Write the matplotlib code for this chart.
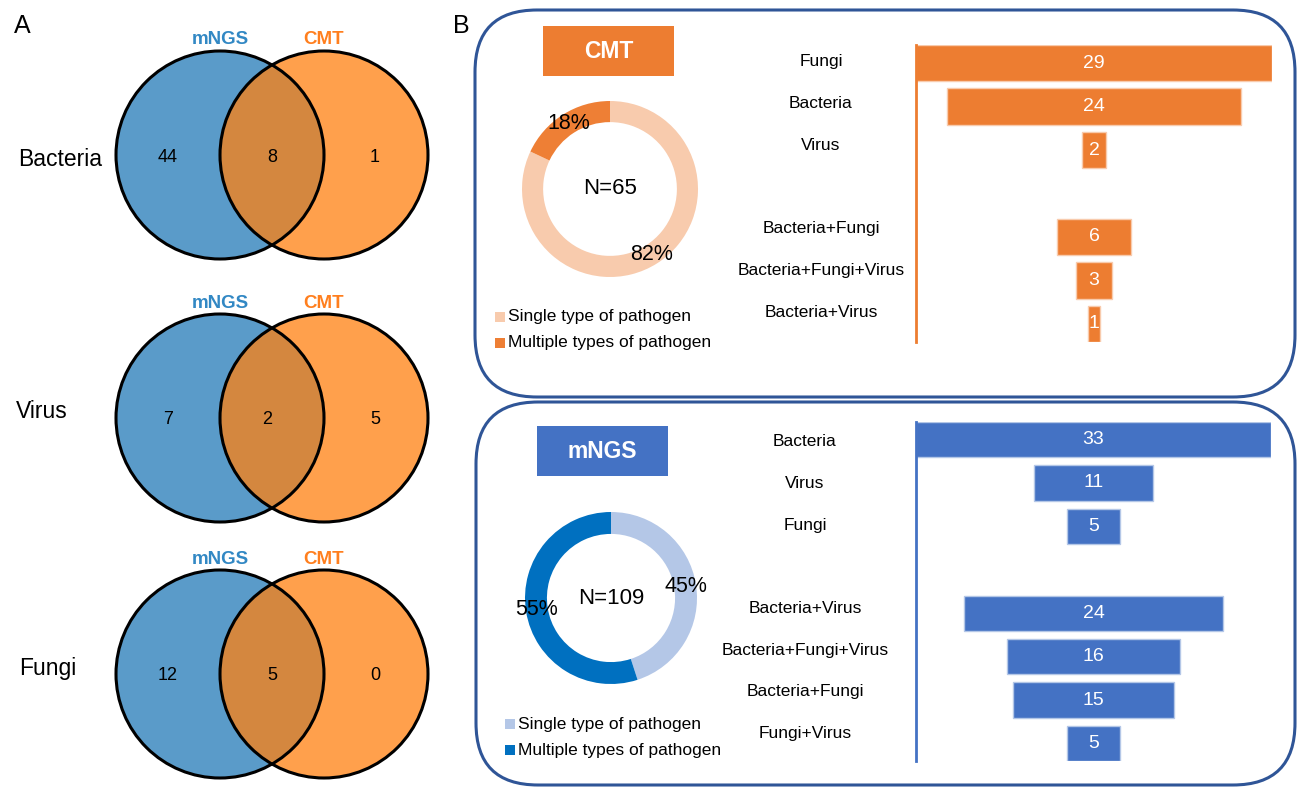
import matplotlib
matplotlib.use("Agg")
import matplotlib.pyplot as plt
from matplotlib.patches import Circle, Rectangle, FancyBboxPatch
import matplotlib.transforms as mtransforms

plt.rcParams['font.family'] = ['Liberation Sans', 'DejaVu Sans']

# ---------------- data ----------------
venn_groups = ["Bacteria", "Virus", "Fungi"]
venn_mngs_only = [44, 7, 12]
venn_both = [8, 2, 5]
venn_cmt_only = [1, 5, 0]

cmt_cats = ["Fungi", "Bacteria", "Virus",
            "Bacteria+Fungi", "Bacteria+Fungi+Virus", "Bacteria+Virus"]
cmt_vals = [29, 24, 2, 6, 3, 1]
cmt_single_count = 3

mngs_cats = ["Bacteria", "Virus", "Fungi",
             "Bacteria+Virus", "Bacteria+Fungi+Virus", "Bacteria+Fungi", "Fungi+Virus"]
mngs_vals = [33, 11, 5, 24, 16, 15, 5]
mngs_single_count = 3

pie_labels = ["Single type of pathogen", "Multiple types of pathogen"]
cmt_pie = [82, 18]
cmt_n = 65
mngs_pie = [45, 55]
mngs_n = 109

# ---------------- figure ----------------
W, H = 1297, 787
fig = plt.figure(figsize=(W / 100, H / 100), dpi=100)
bg = fig.add_axes([0, 0, 1, 1])
bg.set_xlim(0, W)
bg.set_ylim(H, 0)
bg.axis('off')
bg.set_zorder(0)


def px_axes(x0, y0, x1, y1):
    """Create axes from pixel box (top-left origin)."""
    return fig.add_axes([x0 / W, 1 - y1 / H, (x1 - x0) / W, (y1 - y0) / H])


# ---------------- Panel A: Venn ----------------
bg.text(22, 26, "A", fontsize=18, ha='center', va='center')
blue_c = '#5A9BC9'
orange_c = '#FFA04C'
over_c = '#D4873F'
venn_cy = [155, 418, 674]
lx, rx, r = 220, 324, 104
label_x = [60, 42, 48]
mid_x = [272, 267, 272]
for i, cy in enumerate(venn_cy):
    c_or = Circle((rx, cy), r, facecolor=orange_c, edgecolor='none', zorder=1)
    c_bl = Circle((lx, cy), r, facecolor=blue_c, edgecolor='none', zorder=2)
    bg.add_patch(c_or)
    bg.add_patch(c_bl)
    clipc = Circle((rx, cy), r, transform=bg.transData)
    ov = Circle((lx, cy), r, facecolor=over_c, edgecolor='none', zorder=3)
    bg.add_patch(ov)
    ov.set_clip_path(clipc)
    for cx in (lx, rx):
        bg.add_patch(Circle((cx, cy), r, facecolor='none', edgecolor='black', lw=2.2, zorder=4))
    bg.text(lx, cy - 115, "mNGS", color='#3288C4', fontsize=13.5, fontweight='bold',
            ha='center', va='center')
    bg.text(rx, cy - 115, "CMT", color='#FF7F1E', fontsize=13.5, fontweight='bold',
            ha='center', va='center')
    bg.text(label_x[i], cy + 4 - (10 if i else 0), venn_groups[i], fontsize=16.5,
            ha='center', va='center')
    bg.text(168, cy + 2, str(venn_mngs_only[i]), fontsize=13, ha='center', va='center', zorder=5)
    bg.text(mid_x[i], cy + 2, str(venn_both[i]), fontsize=13, ha='center', va='center', zorder=5)
    bg.text(375, cy + 2, str(venn_cmt_only[i]), fontsize=13, ha='center', va='center', zorder=5)

# ---------------- Panel B ----------------
bg.text(461, 26, "B", fontsize=18, ha='center', va='center')
box_col = '#2F5597'
for (x0, y0, x1, y1) in [(475, 10, 1295, 397), (476, 402, 1295, 785)]:
    bg.add_patch(FancyBboxPatch((x0, y0), x1 - x0, y1 - y0,
                                boxstyle="round,pad=0,rounding_size=62",
                                facecolor='none', edgecolor=box_col, lw=2.2, zorder=1))

# title boxes
bg.add_patch(Rectangle((543, 26), 131, 50, facecolor='#ED7D31', edgecolor='none'))
bg.text(608.5, 51, "CMT", color='white', fontsize=16.5, fontweight='bold', ha='center', va='center')
bg.add_patch(Rectangle((537, 426), 131, 50, facecolor='#4472C4', edgecolor='none'))
bg.text(602.5, 451, "mNGS", color='white', fontsize=16.5, fontweight='bold', ha='center', va='center')


def donut(cx, cy, rad, vals, colors, n, width):
    ax = px_axes(cx - rad, cy - rad, cx + rad, cy + rad)
    wedges, texts, autotexts = ax.pie(vals, colors=colors, startangle=90, counterclock=False,
                                      radius=1, autopct='%.0f%%', pctdistance=0.88,
                                      wedgeprops=dict(width=width, edgecolor='none'),
                                      textprops=dict(fontsize=15.5, color='black'))
    ax.set_xlim(-1, 1)
    ax.set_ylim(-1, 1)
    ax.set_aspect('equal')
    ax.axis('off')
    ax.text(0, 0, f"N={n}", fontsize=16, ha='center', va='center')
    return wedges


cmt_cols = ['#F8CBAD', '#EE7F35']
mngs_cols = ['#B4C7E7', '#0070C0']
donut(610, 189, 88, cmt_pie, cmt_cols, cmt_n, 0.24)
donut(611, 598, 86, mngs_pie, mngs_cols, mngs_n, 0.255)

# legends
for (sx, sy0, cols) in [(500, 317, cmt_cols), (510, 724, mngs_cols)]:
    for j, lab in enumerate(pie_labels):
        yy = sy0 + j * 26
        bg.add_patch(Rectangle((sx - 5, yy - 5), 10, 10, facecolor=cols[j], edgecolor='none'))
        bg.text(sx + 8, yy, lab, fontsize=12.5, ha='left', va='center')


def funnel(box, cats, vals, n_single, xhalf, color, edge, label_xfrac, lab_scale, lab_off, bar_h):
    x0, y0, x1, y1 = box
    ax = px_axes(x0, y0, x1, y1)
    pos = [i if i < n_single else i + 1 for i in range(len(vals))]
    left = [-v / 2 for v in vals]
    ax.barh(pos, vals, left=left, height=bar_h, color=color, edgecolor=edge, lw=1)
    for p, v in zip(pos, vals):
        ax.text(0, p, str(v), color='white', fontsize=14, ha='center', va='center')
    ax.set_xlim(-xhalf, xhalf)
    ax.set_ylim(pos[-1] + bar_h / 2, -bar_h / 2)
    ax.set_facecolor('none')
    for s in ['top', 'right', 'bottom']:
        ax.spines[s].set_visible(False)
    ax.spines['left'].set_color(color)
    ax.spines['left'].set_linewidth(2)
    ax.set_xticks([])
    ax.set_yticks([])
    trans = mtransforms.blended_transform_factory(ax.transAxes, ax.transData)
    for p, c in zip(pos, cats):
        ax.text(label_xfrac, p * lab_scale + lab_off, c, transform=trans, fontsize=12.5,
                ha='center', va='center', clip_on=False)
    return ax


funnel((916, 45, 1272, 342), cmt_cats, cmt_vals, cmt_single_count, 14.5,
       '#ED7D31', '#F8CBAD', -0.267, 0.96, -0.03, 0.83)
funnel((916, 422, 1271, 761), mngs_cats, mngs_vals, mngs_single_count, 16.5,
       '#4472C4', '#B4C7E7', -0.313, 0.96, 0.05, 0.81)

fig.savefig("out.png", dpi=100)
